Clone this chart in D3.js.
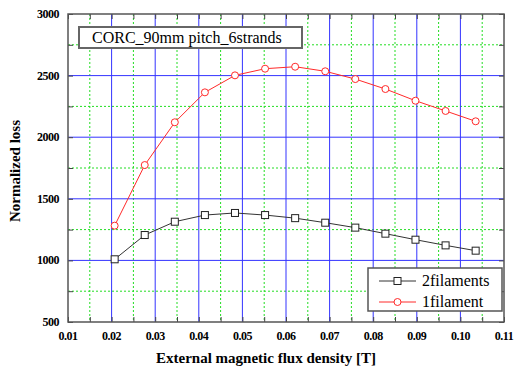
<!DOCTYPE html>
<html>
<head>
<meta charset="utf-8">
<script src="https://cdn.jsdelivr.net/npm/d3@7"></script>
<style>
	body { margin: 0; background: #fff; }
	svg text { font-family: "Liberation Serif", "Times New Roman", serif; }
</style>
</head>
<body>
<script>
// data
const fieldB = [0.0207, 0.0276, 0.0345, 0.0414, 0.0483, 0.0552, 0.0621, 0.069, 0.0759, 0.0828, 0.0897, 0.0966, 0.1035];
const twoFil = [1009, 1206, 1314, 1368, 1385, 1368, 1343, 1306, 1266, 1217, 1168, 1122, 1079];
const oneFil = [1282, 1774, 2121, 2364, 2502, 2556, 2572, 2535, 2472, 2391, 2296, 2213, 2129];
const xTicks = [0.01, 0.02, 0.03, 0.04, 0.05, 0.06, 0.07, 0.08, 0.09, 0.10, 0.11];
const xTickText = ["0.01", "0.02", "0.03", "0.04", "0.05", "0.06", "0.07", "0.08", "0.09", "0.10", "0.11"];
const yTicks = [500, 1000, 1500, 2000, 2500, 3000];
const seriesNames = ["2filaments", "1filament"];

// svg canvas and scales
const width = 516, height = 374,
      pLeft = 68, pRight = 504, pTop = 14, pBottom = 322,
      svg = d3.select("body")
              .append("svg")
              .attr("width", width)
              .attr("height", height),
      xScale = d3.scaleLinear()
                 .domain([0.01, 0.11])
                 .range([pLeft, pRight]),
      yScale = d3.scaleLinear()
                 .domain([500, 3000])
                 .range([pBottom, pTop]);

const xMinor = d3.range(0.015, 0.11, 0.01),
      yMinor = d3.range(750, 3000, 500);

// grid
svg.append("g")
   .selectAll("line")
   .data(xMinor)
   .enter()
   .append("line")
   .attr("x1", d => xScale(d)).attr("x2", d => xScale(d))
   .attr("y1", pTop).attr("y2", pBottom)
   .attr("stroke", "#22dd22")
   .attr("stroke-dasharray", "2,2");

svg.append("g")
   .selectAll("line")
   .data(yMinor)
   .enter()
   .append("line")
   .attr("y1", d => yScale(d)).attr("y2", d => yScale(d))
   .attr("x1", pLeft).attr("x2", pRight)
   .attr("stroke", "#22dd22")
   .attr("stroke-dasharray", "2,2");

svg.append("g")
   .selectAll("line")
   .data(xTicks.slice(1, -1))
   .enter()
   .append("line")
   .attr("x1", d => xScale(d)).attr("x2", d => xScale(d))
   .attr("y1", pTop).attr("y2", pBottom)
   .attr("stroke", "#3333ff");

svg.append("g")
   .selectAll("line")
   .data(yTicks.slice(1, -1))
   .enter()
   .append("line")
   .attr("y1", d => yScale(d)).attr("y2", d => yScale(d))
   .attr("x1", pLeft).attr("x2", pRight)
   .attr("stroke", "#3333ff");

// axes with inner ticks on all sides
const noText = () => "";
svg.append("g").attr("transform", `translate(0,${pBottom})`)
   .call(d3.axisTop(xScale).tickValues(xTicks.concat(xMinor)).tickSize(5).tickFormat(noText));
svg.append("g").attr("transform", `translate(0,${pTop})`)
   .call(d3.axisBottom(xScale).tickValues(xTicks.concat(xMinor)).tickSize(5).tickFormat(noText));
svg.append("g").attr("transform", `translate(${pLeft},0)`)
   .call(d3.axisRight(yScale).tickValues(yTicks.concat(yMinor)).tickSize(5).tickFormat(noText));
svg.append("g").attr("transform", `translate(${pRight},0)`)
   .call(d3.axisLeft(yScale).tickValues(yTicks.concat(yMinor)).tickSize(5).tickFormat(noText));
svg.selectAll(".domain").remove();
svg.selectAll(".tick line").attr("stroke", "#444");

svg.append("rect")
   .attr("x", pLeft).attr("y", pTop)
   .attr("width", pRight - pLeft).attr("height", pBottom - pTop)
   .attr("fill", "none")
   .attr("stroke", "#555")
   .attr("stroke-width", 1.5);

// tick labels
svg.append("g")
   .selectAll("text")
   .data(xTicks)
   .enter()
   .append("text")
   .attr("x", d => xScale(d))
   .attr("y", 340)
   .attr("text-anchor", "middle")
   .attr("font-size", 12)
   .attr("font-weight", "bold")
   .attr("letter-spacing", -0.5)
   .text((d, i) => xTickText[i]);

svg.append("g")
   .selectAll("text")
   .data(yTicks)
   .enter()
   .append("text")
   .attr("x", 59)
   .attr("y", d => yScale(d) + 4)
   .attr("text-anchor", "end")
   .attr("font-size", 12)
   .attr("font-weight", "bold")
   .attr("letter-spacing", -0.5)
   .text(d => d);

// axis titles
svg.append("text")
   .attr("x", 266).attr("y", 363)
   .attr("text-anchor", "middle")
   .attr("font-size", 15)
   .attr("font-weight", "bold")
   .text("External magnetic flux density [T]");

svg.append("text")
   .attr("transform", "translate(20,171) rotate(-90)")
   .attr("text-anchor", "middle")
   .attr("font-size", 15)
   .attr("font-weight", "bold")
   .text("Normalized loss");

// series
const line = d3.line()
               .x(d => xScale(d[0]))
               .y(d => yScale(d[1]));

const blackPts = fieldB.map((b, i) => [b, twoFil[i]]),
      redPts = fieldB.map((b, i) => [b, oneFil[i]]);

svg.append("path").datum(blackPts)
   .attr("d", line).attr("fill", "none").attr("stroke", "#333");
svg.append("path").datum(redPts)
   .attr("d", line).attr("fill", "none").attr("stroke", "#ff2a2a");

svg.selectAll("rect.sq")
   .data(blackPts)
   .enter()
   .append("rect")
   .attr("class", "sq")
   .attr("x", d => xScale(d[0]) - 3.5)
   .attr("y", d => yScale(d[1]) - 3.5)
   .attr("width", 7).attr("height", 7)
   .attr("fill", "#fff").attr("stroke", "#222");

svg.selectAll("circle.pt")
   .data(redPts)
   .enter()
   .append("circle")
   .attr("class", "pt")
   .attr("cx", d => xScale(d[0]))
   .attr("cy", d => yScale(d[1]))
   .attr("r", 3.5)
   .attr("fill", "#fff").attr("stroke", "#ff2a2a");

// title box
svg.append("rect")
   .attr("x", 79).attr("y", 27).attr("width", 223).attr("height", 21)
   .attr("fill", "#fff").attr("stroke", "#666").attr("stroke-width", 2);
svg.append("text")
   .attr("x", 92).attr("y", 43)
   .attr("font-size", 16)
   .text("CORC_90mm pitch_6strands");

// legend
const leg = svg.append("g");
leg.append("rect")
   .attr("x", 368).attr("y", 268).attr("width", 134).attr("height", 43)
   .attr("fill", "#fff").attr("stroke", "#555").attr("stroke-width", 1.5);
const rows = [281, 302];
leg.selectAll("line")
   .data(seriesNames)
   .enter()
   .append("line")
   .attr("x1", 379).attr("x2", 416)
   .attr("y1", (d, i) => rows[i]).attr("y2", (d, i) => rows[i])
   .attr("stroke", (d, i) => i ? "#ff2a2a" : "#333");
leg.append("rect")
   .attr("x", 394).attr("y", rows[0] - 3.5).attr("width", 7).attr("height", 7)
   .attr("fill", "#fff").attr("stroke", "#222");
leg.append("circle")
   .attr("cx", 397.5).attr("cy", rows[1]).attr("r", 3.5)
   .attr("fill", "#fff").attr("stroke", "#ff2a2a");
leg.selectAll("text")
   .data(seriesNames)
   .enter()
   .append("text")
   .attr("x", 422)
   .attr("y", (d, i) => rows[i] + 5)
   .attr("font-size", 16)
   .text(d => d);
</script>
</body>
</html>
